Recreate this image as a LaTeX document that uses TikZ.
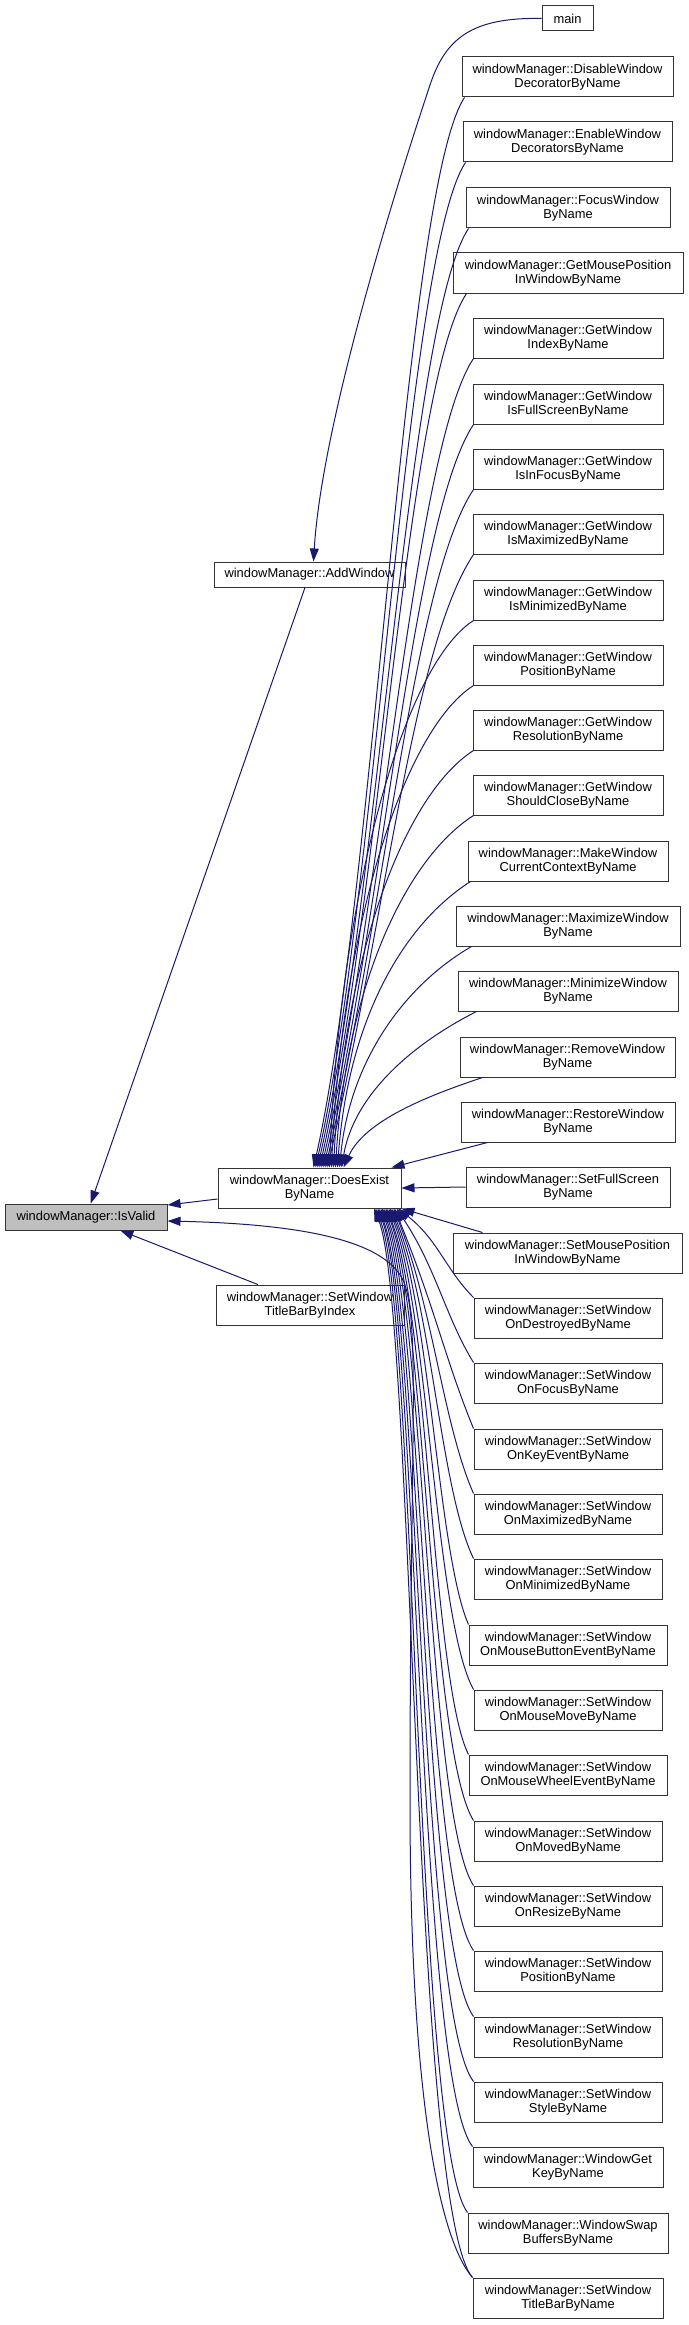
\documentclass[tikz,border=0pt]{standalone}
\usepackage{fontspec}
\setmainfont{Liberation Sans}
\usepackage{tikz}
\usetikzlibrary{arrows.meta}

\definecolor{navyline}{RGB}{25,25,112}
\definecolor{isgray}{RGB}{191,191,191}

\begin{document}
\begin{tikzpicture}[x=1pt, y=-1pt,
    fn/.style={draw=black!80, line width=1pt, fill=white, align=center,
        inner sep=0pt, minimum height=40, font=\fontsize{12.9}{14.5}\selectfont},
    calls/.style={draw=navyline, line width=1pt, -{Triangle[length=13pt, width=9pt]}}]
    \useasboundingbox (0,0) rectangle (688,2325);

    % Nodes left
    \node[fn, fill=isgray, minimum width=162, minimum height=26] (isValid) at (86,1217) {windowManager::IsValid};
    \node[fn, minimum width=191, minimum height=25] (addWin) at (309.5,574.5) {windowManager::AddWindow};
    \node[fn, minimum width=183] (doesExist) at (309.5,1188) {windowManager::DoesExist\\ByName};
    \node[fn, minimum width=188] (titleIndex) at (310,1305) {windowManager::SetWindow\\TitleBarByIndex};

    % Nodes right
    \node[fn, minimum width=51, minimum height=25] (main) at (567.5,18.5) {main};
    \node[fn, minimum width=211] (disDeco) at (567.5,77) {windowManager::DisableWindow\\DecoratorByName};
    \node[fn, minimum width=209] (enDeco) at (567.5,142) {windowManager::EnableWindow\\DecoratorsByName};
    \node[fn, minimum width=204] (focus) at (568,208) {windowManager::FocusWindow\\ByName};
    \node[fn, minimum width=230] (getMouse) at (568,273) {windowManager::GetMousePosition\\InWindowByName};
    \node[fn, minimum width=190] (getIndex) at (568,338) {windowManager::GetWindow\\IndexByName};
    \node[fn, minimum width=190] (getFull) at (568,404) {windowManager::GetWindow\\IsFullScreenByName};
    \node[fn, minimum width=190] (getFocus) at (568,469) {windowManager::GetWindow\\IsInFocusByName};
    \node[fn, minimum width=190] (getMax) at (568,534) {windowManager::GetWindow\\IsMaximizedByName};
    \node[fn, minimum width=190] (getMin) at (568,600) {windowManager::GetWindow\\IsMinimizedByName};
    \node[fn, minimum width=190] (getPos) at (568,665) {windowManager::GetWindow\\PositionByName};
    \node[fn, minimum width=190] (getRes) at (568,730) {windowManager::GetWindow\\ResolutionByName};
    \node[fn, minimum width=190] (getClose) at (568,795) {windowManager::GetWindow\\ShouldCloseByName};
    \node[fn, minimum width=200] (makeCtx) at (568,861) {windowManager::MakeWindow\\CurrentContextByName};
    \node[fn, minimum width=224] (maximize) at (568,926) {windowManager::MaximizeWindow\\ByName};
    \node[fn, minimum width=220] (minimize) at (568,991) {windowManager::MinimizeWindow\\ByName};
    \node[fn, minimum width=215] (remove) at (567.5,1057) {windowManager::RemoveWindow\\ByName};
    \node[fn, minimum width=214] (restore) at (568,1122) {windowManager::RestoreWindow\\ByName};
    \node[fn, minimum width=204] (setFull) at (568,1187) {windowManager::SetFullScreen\\ByName};
    \node[fn, minimum width=229] (setMouse) at (567.5,1253) {windowManager::SetMousePosition\\InWindowByName};
    \node[fn, minimum width=188] (onDestroyed) at (568,1318) {windowManager::SetWindow\\OnDestroyedByName};
    \node[fn, minimum width=188] (onFocus) at (568,1383) {windowManager::SetWindow\\OnFocusByName};
    \node[fn, minimum width=188] (onKey) at (568,1449) {windowManager::SetWindow\\OnKeyEventByName};
    \node[fn, minimum width=188] (onMax) at (568,1514) {windowManager::SetWindow\\OnMaximizedByName};
    \node[fn, minimum width=188] (onMin) at (568,1579) {windowManager::SetWindow\\OnMinimizedByName};
    \node[fn, minimum width=198] (onButton) at (568,1645) {windowManager::SetWindow\\OnMouseButtonEventByName};
    \node[fn, minimum width=188] (onMove) at (568,1710) {windowManager::SetWindow\\OnMouseMoveByName};
    \node[fn, minimum width=198] (onWheel) at (568,1775) {windowManager::SetWindow\\OnMouseWheelEventByName};
    \node[fn, minimum width=188] (onMoved) at (568,1841) {windowManager::SetWindow\\OnMovedByName};
    \node[fn, minimum width=188] (onResize) at (568,1906) {windowManager::SetWindow\\OnResizeByName};
    \node[fn, minimum width=188] (setPos) at (568,1971) {windowManager::SetWindow\\PositionByName};
    \node[fn, minimum width=188] (setRes) at (568,2037) {windowManager::SetWindow\\ResolutionByName};
    \node[fn, minimum width=188] (setStyle) at (568,2102) {windowManager::SetWindow\\StyleByName};
    \node[fn, minimum width=190] (getKey) at (568,2167) {windowManager::WindowGet\\KeyByName};
    \node[fn, minimum width=200] (swapBuf) at (568,2233) {windowManager::WindowSwap\\BuffersByName};
    \node[fn, minimum width=190] (titleName) at (568,2298) {windowManager::SetWindow\\TitleBarByName};

    % Calls into IsValid
    \draw[calls] (addWin) -- (isValid);
    \draw[calls] ([yshift=-11]doesExist.west) -- ([yshift=12]isValid.east);
    \draw[calls] (titleIndex) -- (isValid);
    \draw[calls] (titleName.north west) .. controls (440,2240) and (410,2100) .. (410,1800)
        .. controls (410,1450) and (420,1330) .. (405,1285)
        .. controls (390,1240) and (300,1224) .. ([yshift=-4]isValid.east);

    % Calls into AddWindow
    \draw[calls] (main.west) .. controls (470,17) and (445,40) .. (430,85)
        .. controls (400,175) and (322,420) .. ([xshift=4]addWin.north);

    % Calls into DoesExistByName (from above)
    \foreach \n/\sx/\ex/\ax/\ay/\bx/\by in {
        disDeco/3/4/405/187/374/900, enDeco/3/6/406/252/376/900,
        focus/3/8/409/318/378/900, getMouse/14/10/407/383/380/900,
        getIndex/1/12/414/448/382/900, getFull/1/14/414/514/384/900,
        getFocus/1/16/414/579/386/900, getMax/1/18/414/644/388/900,
        getMin/1/20/404/665/340/892, getPos/1/22/404/730/342/925,
        getRes/1/24/404/795/344/957, getClose/1/26/404/860/346/990,
        makeCtx/3/28/401/926/348/1023, maximize/16/30/405/985/350/1060,
        minimize/19/32/420/1040/355/1090, remove/23/34/430/1095/365/1120}
        \draw[calls] ([xshift=\sx]\n.south west) .. controls (\ax,\ay) and (\bx,\by) .. ([xshift=\ex]doesExist.north);

    % Calls into DoesExistByName (level)
    \draw[calls] ([xshift=27]restore.south west) -- ([xshift=82]doesExist.north);
    \draw[calls] (setFull.west) -- (doesExist.east);
    \draw[calls] ([xshift=30]setMouse.north west) -- (doesExist.south east);

    % Calls into DoesExistByName (from below)
    \foreach \n/\ex/\ax/\ay/\bx/\by in {
        onDestroyed/88.5/438/1240/446/1270, onFocus/87/436/1268/446/1318,
        onKey/85/435/1308/445/1359, onMax/84/433/1308/443/1424,
        onMin/82/432/1308/440/1489, onButton/80.5/430/1308/438/1555,
        onMove/79/428/1308/435/1620, onWheel/77/427/1308/433/1685,
        onMoved/76/425/1308/430/1751, onResize/74/424/1308/428/1816,
        setPos/72.5/422/1308/425/1881, setRes/71/420/1308/423/1947,
        setStyle/69/419/1308/420/2012, getKey/68/417/1308/418/2077,
        swapBuf/66/416/1308/415/2143, titleName/64.5/414/1308/413/2208}
        \draw[calls] (\n.north west) .. controls (\bx,\by) and (\ax,\ay) .. ([xshift=\ex]doesExist.south);
\end{tikzpicture}
\end{document}
